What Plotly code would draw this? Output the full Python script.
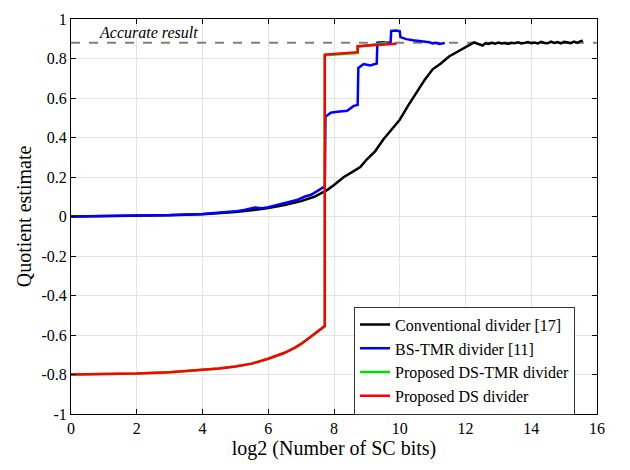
import plotly.graph_objects as go

accurate = 0.88

conv_x = [0, 1, 2, 3, 4, 4.5, 5, 5.5, 6, 6.5, 7, 7.4, 7.8, 8.0, 8.3, 8.55, 8.8, 9.0, 9.25, 9.5, 9.75,
          10.0, 10.25, 10.5, 10.75, 11.0, 11.25, 11.5, 11.7, 11.86, 12.0, 12.15, 12.26, 12.35, 12.45, 12.52,
          12.6, 12.7, 12.8, 12.9, 13.0, 13.1, 13.2, 13.3, 13.4, 13.5, 13.6, 13.7, 13.8, 13.9, 14.0,
          14.1, 14.2, 14.3, 14.4, 14.5, 14.6, 14.7, 14.8, 14.9, 15.0, 15.1, 15.2, 15.3, 15.4, 15.5, 15.57]
conv_y = [0.0, 0.001, 0.003, 0.006, 0.011, 0.016, 0.023, 0.032, 0.043, 0.058, 0.078, 0.1, 0.135, 0.16, 0.2, 0.225, 0.25, 0.29, 0.33, 0.39, 0.44,
          0.49, 0.56, 0.625, 0.69, 0.745, 0.775, 0.81, 0.83, 0.845, 0.86, 0.872, 0.882, 0.876, 0.87, 0.866,
          0.877, 0.874, 0.879, 0.875, 0.881, 0.876, 0.878, 0.874, 0.88, 0.877, 0.882, 0.876, 0.879, 0.883, 0.878,
          0.881, 0.876, 0.884, 0.879, 0.877, 0.885, 0.879, 0.883, 0.876, 0.884, 0.88, 0.878, 0.886, 0.879, 0.888, 0.89]

bs_x = [0, 1, 2, 3, 4, 4.5, 5, 5.3, 5.6, 5.8, 6.0, 6.3, 6.6, 6.9, 7.1, 7.3, 7.5, 7.72, 7.74,
        7.9, 8.1, 8.4, 8.6, 8.72, 8.74, 8.9, 9.1, 9.3, 9.32, 9.5, 9.72, 9.74, 9.9, 10.0, 10.02,
        10.2, 10.4, 10.6, 10.8, 10.9, 11.0, 11.1, 11.2, 11.37]
bs_y = [0.0, 0.002, 0.004, 0.007, 0.013, 0.018, 0.026, 0.034, 0.046, 0.042, 0.047, 0.06, 0.072, 0.085, 0.1, 0.11, 0.13, 0.153, 0.505,
        0.525, 0.53, 0.535, 0.56, 0.565, 0.752, 0.772, 0.765, 0.775, 0.88, 0.882, 0.878, 0.94, 0.942, 0.938, 0.908,
        0.898, 0.892, 0.888, 0.884, 0.882, 0.876, 0.88, 0.874, 0.878]

dstmr_x = [0, 1, 2, 3, 4, 4.5, 5, 5.5, 6, 6.5, 6.8, 7.0, 7.2, 7.4, 7.6, 7.72, 7.72,
           8.0, 8.3, 8.6, 8.72, 8.72, 9.0, 9.3, 9.62]
dstmr_y = [-0.8, -0.799, -0.795, -0.788, -0.778, -0.77, -0.76, -0.745, -0.72, -0.69, -0.665, -0.645, -0.62, -0.595, -0.57, -0.555, 0.816,
           0.818, 0.821, 0.826, 0.828, 0.86, 0.866, 0.874, 0.88]

ds_x = [0, 1, 2, 3, 4, 4.5, 5, 5.5, 6, 6.5, 6.8, 7.0, 7.2, 7.4, 7.6, 7.72, 7.72,
        8.0, 8.3, 8.6, 8.72, 8.72, 9.0, 9.3, 9.6, 9.9]
ds_y = [-0.8, -0.799, -0.795, -0.788, -0.778, -0.77, -0.76, -0.745, -0.72, -0.69, -0.665, -0.645, -0.62, -0.595, -0.57, -0.555, 0.82,
        0.823, 0.826, 0.83, 0.832, 0.862, 0.866, 0.868, 0.871, 0.875]

x_ticks = list(range(0, 17, 2))
y_ticks = [-1, -0.8, -0.6, -0.4, -0.2, 0, 0.2, 0.4, 0.6, 0.8, 1]
y_labels = ["-1", "-0.8", "-0.6", "-0.4", "-0.2", "0", "0.2", "0.4", "0.6", "0.8", "1"]

font = "Liberation Serif, Times New Roman, serif"

fig = go.Figure()
fig.add_trace(go.Scatter(x=[0, 16], y=[accurate, accurate], mode="lines",
                         line=dict(color="#808080", width=2, dash="dash"), showlegend=False, hoverinfo="skip"))
fig.add_trace(go.Scatter(x=conv_x, y=conv_y, mode="lines", name="Conventional divider [17]",
                         line=dict(color="black", width=2.5)))
fig.add_trace(go.Scatter(x=bs_x, y=bs_y, mode="lines", name="BS-TMR divider [11]",
                         line=dict(color="#0000ff", width=2.5)))
fig.add_trace(go.Scatter(x=dstmr_x, y=dstmr_y, mode="lines", name="Proposed DS-TMR divider",
                         line=dict(color="#00dd00", width=2.5)))
fig.add_trace(go.Scatter(x=ds_x, y=ds_y, mode="lines", name="Proposed DS divider",
                         line=dict(color="#ff0000", width=2.5)))

fig.add_annotation(x=0.78, y=accurate, xref="x", yref="y", text="<i>Accurate result</i>",
                   showarrow=False, xanchor="left", yanchor="bottom", yshift=0,
                   font=dict(family=font, size=16, color="black"))

axis_common = dict(showgrid=True, gridcolor="#e3e3e3", gridwidth=1, showline=True, linecolor="black",
                   linewidth=1, mirror="ticks", ticks="inside", ticklen=5, tickcolor="black",
                   zeroline=False, tickfont=dict(family=font, size=16, color="black"))

fig.update_layout(
    width=630, height=470,
    margin=dict(l=71, r=33, t=11, b=56),
    paper_bgcolor="white", plot_bgcolor="white",
    font=dict(family=font, color="black"),
    xaxis=dict(range=[0, 16], tickvals=x_ticks,
               title=dict(text="log2 (Number of SC bits)", font=dict(family=font, size=20), standoff=3),
               **axis_common),
    yaxis=dict(range=[-1, 1], tickvals=y_ticks, ticktext=y_labels,
               title=dict(text="Quotient estimate", font=dict(family=font, size=20), standoff=4),
               **axis_common),
    legend=dict(x=0.538, y=0.272, xanchor="left", yanchor="top", bgcolor="white",
                bordercolor="#333333", borderwidth=1, font=dict(family=font, size=16),
                itemwidth=30, tracegroupgap=0),
    showlegend=True,
)

fig.write_html("out.html")
